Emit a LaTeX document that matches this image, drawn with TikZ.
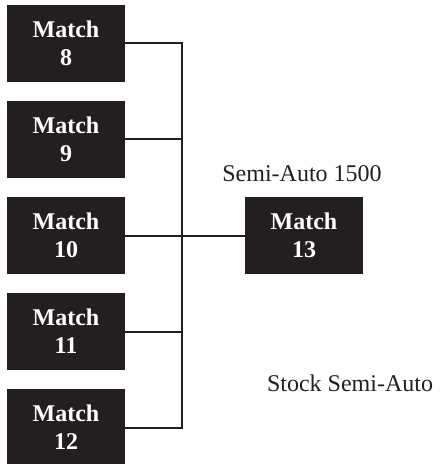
\documentclass[tikz,border=0pt]{standalone}
\usepackage{fontspec}
\setmainfont{Liberation Serif}
\definecolor{boxblack}{HTML}{231F20}
\tikzset{
  matchbox/.style={fill=boxblack,text=white,font=\bfseries\fontsize{12}{14}\selectfont,
    align=center,minimum width=59pt,minimum height=38.5pt,inner sep=0pt},
  label/.style={font=\fontsize{12}{14}\selectfont,text=boxblack,inner sep=0pt},
  wire/.style={draw=boxblack,line width=1pt}
}
\begin{document}
\begin{tikzpicture}[x=0.5pt,y=-0.5pt]
\useasboundingbox (0,0) rectangle (440,464);
% first round
\node[matchbox] (m8) at (66,43.5) {Match\\8};
\node[matchbox] (m9) at (66,139.5) {Match\\9};
\node[matchbox] (m10) at (66,235.5) {Match\\10};
\node[matchbox] (m11) at (66,331.5) {Match\\11};
\node[matchbox] (m12) at (66,427.5) {Match\\12};
% final
\node[matchbox] (m13) at (304,235.5) {Match\\13};
\node[label] (semi) at (302,174) {Semi-Auto 1500};
\node[label] (stock) at (350,383) {Stock Semi-Auto};
% bracket
\coordinate (bar) at (182,235.5);
\draw[wire] (m8.east) -| (bar);
\draw[wire] (m9.east) -| (bar);
\draw[wire] (m11.east) -| (bar);
\draw[wire] (m12.east) -| (bar);
\draw[wire] (m10.east) -- (m13.west);
\end{tikzpicture}
\end{document}
